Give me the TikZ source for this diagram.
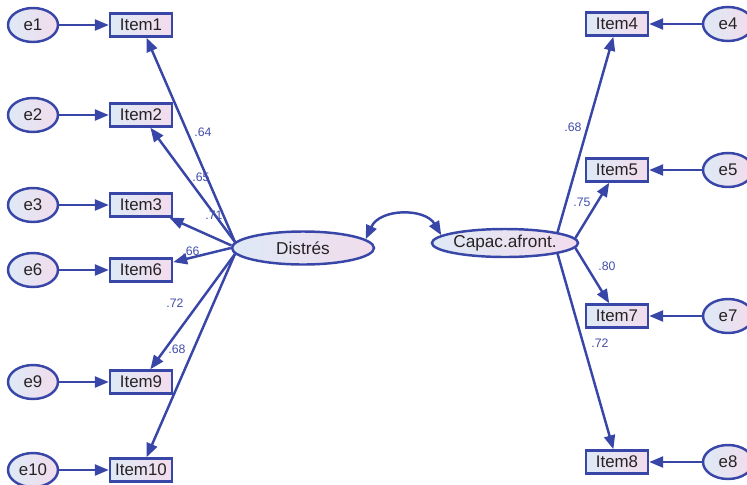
\documentclass[tikz,border=0pt]{standalone}
\usepackage{fontspec}
\setmainfont{Liberation Sans}
\usetikzlibrary{arrows.meta,shapes.geometric}
\definecolor{amosblue}{RGB}{56,70,168}
\definecolor{coefblue}{RGB}{66,78,170}
\definecolor{fillblue}{RGB}{222,233,246}
\definecolor{fillpink}{RGB}{242,220,236}
\definecolor{nodetext}{RGB}{40,34,36}
\tikzset{
  obs/.style={draw=amosblue, line width=1.4pt, left color=fillblue, right color=fillpink,
    minimum width=1.24cm, minimum height=0.46cm, inner sep=0pt, text=nodetext,
    font=\fontsize{9.6}{11}\selectfont},
  err/.style={ellipse, draw=amosblue, line width=1.4pt, left color=fillblue, right color=fillpink,
    minimum width=1cm, minimum height=0.68cm, inner sep=0pt, text=nodetext,
    font=\fontsize{9.6}{11}\selectfont},
  lat/.style={ellipse, draw=amosblue, line width=1.4pt, left color=fillblue, right color=fillpink,
    inner sep=0pt, text=nodetext, font=\fontsize{9.8}{11}\selectfont},
  load/.style={amosblue, line width=1.4pt, -{Triangle[length=0.28cm,width=0.22cm]}},
  coef/.style={text=coefblue, font=\fontsize{7}{8}\selectfont}
}
\begin{document}
\begin{tikzpicture}[x=0.02cm,y=-0.02cm]
\useasboundingbox (0,0) rectangle (747,484);
\clip (0,0) rectangle (747,484);
% latent variables
\node[lat, minimum width=2.84cm, minimum height=0.66cm] (dis) at (303,248) {Distrés};
\node[lat, minimum width=2.8cm, minimum height=0.56cm] (cap) at (505,243) {Capac.afront.};
% left items
\node[obs] (i1) at (141,25) {Item1};
\node[obs] (i2) at (141,115) {Item2};
\node[obs] (i3) at (141,205) {Item3};
\node[obs] (i6) at (141,270) {Item6};
\node[obs] (i9) at (141,382) {Item9};
\node[obs] (i10) at (141,470) {Item10};
\node[err] (e1) at (33,25) {e1};
\node[err] (e2) at (33,115) {e2};
\node[err] (e3) at (33,205) {e3};
\node[err] (e6) at (33,270) {e6};
\node[err] (e9) at (33,382) {e9};
\node[err] (e10) at (33,470) {e10};
% right items
\node[obs] (i4) at (617,24) {Item4};
\node[obs] (i5) at (617,170) {Item5};
\node[obs] (i7) at (617,316) {Item7};
\node[obs] (i8) at (617,462) {Item8};
\node[err] (e4) at (728,24) {e4};
\node[err] (e5) at (728,170) {e5};
\node[err] (e7) at (728,316) {e7};
\node[err] (e8) at (728,462) {e8};
% loadings
\draw[load] (dis.175) -- (i1);
\draw[load] (dis.175) -- (i2);
\draw[load] (dis.178) -- (i3);
\draw[load] (dis.west) -- (i6);
\draw[load] (dis.185) -- (i9);
\draw[load] (dis.185) -- (i10);
\draw[load] (cap.north east) -- (i4);
\draw[load] (cap.4) -- (i5);
\draw[load] (cap.-4) -- (i7);
\draw[load] (cap.south east) -- (i8);
% errors
\draw[load] (e1) -- (i1);
\draw[load] (e2) -- (i2);
\draw[load] (e3) -- (i3);
\draw[load] (e6) -- (i6);
\draw[load] (e9) -- (i9);
\draw[load] (e10) -- (i10);
\draw[load] (e4) -- (i4);
\draw[load] (e5) -- (i5);
\draw[load] (e7) -- (i7);
\draw[load] (e8) -- (i8);
% covariance
\draw[load, {Triangle[length=0.28cm,width=0.22cm]}-{Triangle[length=0.28cm,width=0.22cm]}]
  (dis.8) .. controls (380,208) and (425,208) .. (cap.173);
% coefficients
\node[coef] (c1) at (203,132) {.64};
\node[coef] (c2) at (201,177) {.65};
\node[coef] (c3) at (214,215) {.71};
\node[coef] (c6) at (191,251) {.66};
\node[coef] (c9) at (175,303) {.72};
\node[coef] (c10) at (177,349) {.68};
\node[coef] (c4) at (573,127) {.68};
\node[coef] (c5) at (582,202) {.75};
\node[coef] (c7) at (607,266) {.80};
\node[coef] (c8) at (600,343) {.72};
\end{tikzpicture}
\end{document}
